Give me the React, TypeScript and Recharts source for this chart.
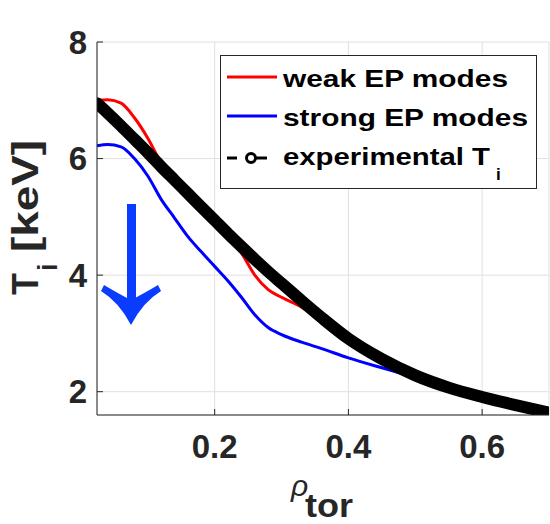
import React from "react";
import { LineChart, Line, XAxis, YAxis, CartesianGrid } from "recharts";

// normalized toroidal radius and ion temperature profiles [keV]
const rho = [0.024, 0.04, 0.06, 0.08, 0.1, 0.12, 0.14, 0.16, 0.18, 0.2, 0.22, 0.24, 0.26, 0.28, 0.3, 0.33, 0.36, 0.4, 0.45, 0.5, 0.55, 0.6, 0.65, 0.7];
const weakTi = [7.0, 7.01, 6.95, 6.7, 6.35, 5.93, 5.66, 5.42, 5.17, 4.94, 4.7, 4.38, 4.0, 3.75, 3.62, 3.45, 3.22, 2.9, 2.57, 2.3, 2.1, 1.95, 1.79, 1.65];
const strongTi = [6.22, 6.24, 6.2, 6.0, 5.7, 5.3, 4.98, 4.66, 4.4, 4.15, 3.9, 3.62, 3.32, 3.1, 2.98, 2.85, 2.74, 2.58, 2.41, 2.25, 2.08, 1.92, 1.77, 1.63];
const expTi = [6.95, 6.78, 6.56, 6.33, 6.1, 5.86, 5.63, 5.4, 5.17, 4.94, 4.71, 4.49, 4.27, 4.06, 3.86, 3.56, 3.27, 2.91, 2.56, 2.28, 2.07, 1.91, 1.77, 1.64];

const xTicks = [0.2, 0.4, 0.6];
const yTicks = [2, 4, 6, 8];

const FONT = "'Liberation Sans', Arial, Helvetica, sans-serif";
const AXIS = "#262626";
const RED = "#ff0000";
const BLUE = "#0000ff";
const ARROW = "#0a3cff";

const data = rho.map((r, i) => ({
  rho: r,
  weak: weakTi[i],
  strong: strongTi[i],
  exp: expTi[i],
}));

const tickStyle = { fill: AXIS, fontSize: 33, fontWeight: "bold", fontFamily: FONT };

export default function App() {
  return (
    <div
      style={{
        position: "absolute",
        left: 0,
        top: 0,
        width: 550,
        height: 524,
        background: "#fff",
        fontFamily: FONT,
      }}
    >
      <LineChart width={550} height={524} data={data} margin={{ top: 42, right: 1, bottom: 0, left: 0 }}>
        <CartesianGrid stroke="#e0e0e0" strokeWidth={1} />
        <XAxis
          dataKey="rho"
          type="number"
          domain={[0.024, 0.7]}
          ticks={xTicks}
          allowDataOverflow
          height={109}
          stroke={AXIS}
          tickSize={-6}
          tickMargin={26}
          tick={tickStyle}
          tickFormatter={(v) => v.toFixed(1)}
        />
        <XAxis
          xAxisId="top"
          orientation="top"
          type="number"
          dataKey="rho"
          domain={[0.024, 0.7]}
          ticks={xTicks}
          allowDataOverflow
          height={0}
          stroke={AXIS}
          tickSize={-6}
          tick={false}
        />
        <YAxis
          type="number"
          domain={[1.6, 8]}
          ticks={yTicks}
          allowDataOverflow
          width={97}
          stroke={AXIS}
          tickSize={-6}
          tickMargin={16}
          tick={tickStyle}
        />
        <YAxis
          yAxisId="right"
          orientation="right"
          type="number"
          domain={[1.6, 8]}
          ticks={yTicks}
          allowDataOverflow
          width={0}
          stroke={AXIS}
          tickSize={-6}
          tick={false}
        />
        <Line type="monotone" dataKey="weak" stroke={RED} strokeWidth={3} dot={false} isAnimationActive={false} />
        <Line type="monotone" dataKey="strong" stroke={BLUE} strokeWidth={3} dot={false} isAnimationActive={false} />
        <Line
          type="monotone"
          dataKey="exp"
          stroke="#000"
          strokeWidth={12}
          strokeLinecap="round"
          strokeLinejoin="round"
          dot={false}
          isAnimationActive={false}
        />
      </LineChart>

      {/* labels, legend and arrow annotation */}
      <svg
        width={550}
        height={524}
        style={{ position: "absolute", left: 0, top: 0, pointerEvents: "none" }}
        fontFamily={FONT}
      >
        {/* y label: T_i [keV] */}
        <text transform="translate(38,295) rotate(-90)" fontSize={36} fontWeight="bold" fill={AXIS}>
          T
        </text>
        <text transform="translate(57,271) rotate(-90)" fontSize={27} fontWeight="bold" fill={AXIS}>
          i
        </text>
        <text
          transform="translate(38,252) rotate(-90)"
          fontSize={36}
          fontWeight="bold"
          fill={AXIS}
          textLength={112}
          lengthAdjust="spacingAndGlyphs"
        >
          [keV]
        </text>

        {/* x label: rho_tor */}
        <text x={291} y={496} fontSize={30} fontStyle="italic" fill={AXIS}>
          ρ
        </text>
        <text x={305} y={517} fontSize={33} fontWeight="bold" fill={AXIS} textLength={48} lengthAdjust="spacingAndGlyphs">
          tor
        </text>

        {/* arrow */}
        <rect x={127} y={204} width={9} height={98} fill={ARROW} />
        <path
          d="M131 325 Q119 302 101 291 L104 285 Q119 294 131 300 Q143 294 158 285 L161 291 Q143 302 131 325 Z"
          fill={ARROW}
        />

        {/* legend */}
        <rect x={220.5} y={55.5} width={316} height={133} fill="#fff" stroke={AXIS} strokeWidth={1} />
        <line x1={227} y1={77} x2={277} y2={77} stroke={RED} strokeWidth={3} />
        <line x1={227} y1={116} x2={277} y2={116} stroke={BLUE} strokeWidth={3} />
        <line x1={227} y1={158} x2={237} y2={158} stroke="#000" strokeWidth={3} />
        <line x1={256} y1={158} x2={267} y2={158} stroke="#000" strokeWidth={3} />
        <circle cx={251} cy={158} r={4.5} fill="none" stroke="#000" strokeWidth={3} />
        <text x={283} y={87} fontSize={23} fontWeight="bold" fill="#000" textLength={225} lengthAdjust="spacingAndGlyphs">
          weak EP modes
        </text>
        <text x={283} y={126} fontSize={23} fontWeight="bold" fill="#000" textLength={245} lengthAdjust="spacingAndGlyphs">
          strong EP modes
        </text>
        <text x={283} y={165} fontSize={23} fontWeight="bold" fill="#000" textLength={207} lengthAdjust="spacingAndGlyphs">
          experimental T
        </text>
        <text x={496} y={180} fontSize={17} fontWeight="bold" fill="#000">
          i
        </text>
      </svg>
    </div>
  );
}
